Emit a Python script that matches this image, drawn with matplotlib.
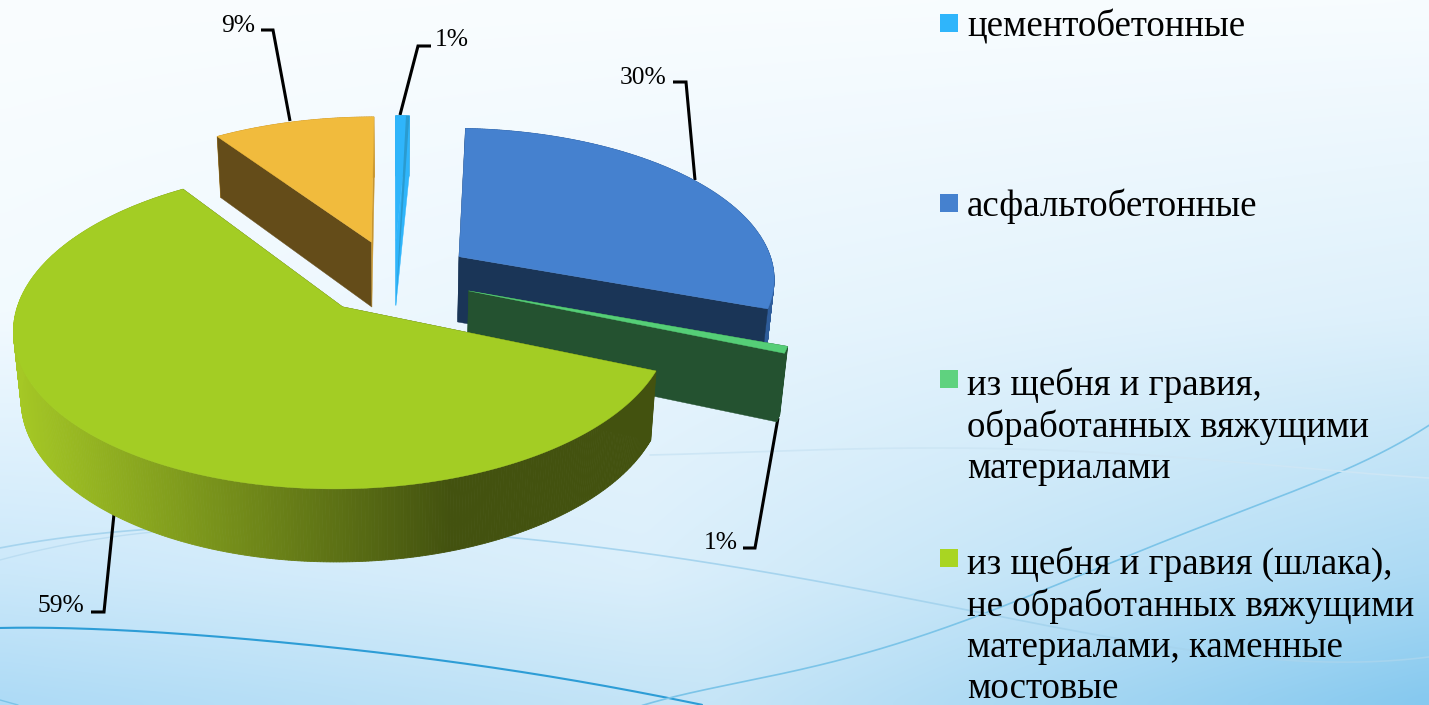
import numpy as np
import matplotlib
matplotlib.use("Agg")
import matplotlib.pyplot as plt
from matplotlib.colors import to_rgb
from matplotlib.patches import Rectangle

categories = ["цементобетонные", "асфальтобетонные",
              "из щебня и гравия,\nобработанных вяжущими\nматериалами",
              "из щебня и гравия (шлака),\nне обработанных вяжущими\nматериалами, каменные\nмостовые"]
values = [0.8, 29.8, 0.7, 59.2, 9.49]
labels = ["1%", "30%", "1%", "59%", "9%"]
top_colors = ["#2FB5FB", "#4581CF", "#55CE77", "#A3CD24", "#F1BB3D"]
start_face = ["#2FB5FB", "#1A3557", "#245230", "#43520F", "#644C19"]
end_face = ["#2FB5FB", "#1A3557", "#245230", "#43520F", "#C8962F"]
rim_light = ["#2A9BD0", "#2E5C9A", "#245230", "#A5C825", "#C8962F"]
rim_dark = ["#2A9BD0", "#2E5C9A", "#245230", "#43520F", "#C8962F"]
explode = [0.25, 0.25, 0.25, 0.25, 0.25]
legend_colors = ["#2FB5FB", "#4581CF", "#5FD27F", "#A9D522"]
legend_text_y = [27, 206, 427, 626]
legend_box_y = [23, 203, 379, 558]
label_pos = [(452, 40), (643, 78), (721, 543), (61, 606), (238, 26)]
leaders = [[(431, 46), (418, 46), (400, 115)],
           [(673, 82), (686, 82), (695, 180)],
           [(743, 548), (755, 548), (778, 418)],
           [(91, 612), (104, 612), (114, 514)],
           [(261, 30), (273, 30), (290, 121)]]

X0, Y0, R, RT, K, H = 394, 277, 317, 150, 0.13, 66
START = 0.0


def proj(x, y, z=0.0):
    s = 1 / (1 + K * y)
    sz = 1 - 0.02 * z
    return X0 + R * x * s * sz, Y0 - RT * y * s + H * z * s ** 0.6


fig = plt.figure(figsize=(14.29, 7.05), dpi=100)
ax = fig.add_axes([0, 0, 1, 1])
ax.axis("off")

# background gradient
col_top = [to_rgb("#FAFDFF"), to_rgb("#F7FCFF")]
col_mid = [to_rgb("#F2FAFF"), to_rgb("#DDF0FB")]
col_low = [to_rgb("#CBE8FA"), to_rgb("#DBEFFB"), to_rgb("#ACDAF4")]
col_bot = [to_rgb("#AEDBF6"), to_rgb("#C6E5F7"), to_rgb("#86C9EF")]
gx = np.linspace(0, 1, 143)
gy = np.linspace(0, 1, 71)
img = np.zeros((gy.size, gx.size, 3))
for c in range(3):
    rows = [np.interp(gx, [0, 1], [col_top[0][c], col_top[1][c]]),
            np.interp(gx, [0, 1], [col_mid[0][c], col_mid[1][c]]),
            np.interp(gx, [0, 0.45, 1], [col_low[0][c], col_low[1][c], col_low[2][c]]),
            np.interp(gx, [0, 0.5, 1], [col_bot[0][c], col_bot[1][c], col_bot[2][c]])]
    for k in range(gx.size):
        img[:, k, c] = np.interp(gy, [0, 0.45, 0.82, 1], [r[k] for r in rows])
ax.imshow(img, extent=(0, 1429, 705, 0), aspect="auto", interpolation="bicubic", zorder=0)
ax.set_xlim(0, 1429)
ax.set_ylim(705, 0)

# decorative background curves
curves = [([0, 120, 229, 360, 459, 570, 665, 702], [628, 630, 638, 650, 663, 680, 697, 705], "#2D9DD6", 1.5),
          ([642, 720, 850, 991, 1172, 1353, 1429], [705, 688, 655, 613, 537, 467, 425], "#7CC4E8", 1.2),
          ([0, 138, 300, 504, 720, 946, 1172, 1429], [548, 530, 525, 538, 563, 607, 647, 657], "#A6D4EE", 1.2),
          ([0, 92, 250], [560, 540, 528], "#BBDDF2", 1.0),
          ([650, 720, 946, 1172, 1429], [455, 453, 448, 457, 478], "#CDE6F5", 1.2),
          ([0, 18], [700, 705], "#7CC4E8", 1.0)]
for cx, cy, col, lw in curves:
    cx, cy = np.array(cx, float), np.array(cy, float)
    xx = np.linspace(cx[0], cx[-1], 300)
    yy = np.polyval(np.polyfit(cx, cy, min(len(cx) - 1, 5)), xx)
    ax.plot(xx, yy, color=col, lw=lw, zorder=1, solid_capstyle="round")

# leader lines
for pts in leaders:
    xs, ys = zip(*pts)
    ax.plot(xs, ys, color="black", lw=2.2, zorder=2, solid_joinstyle="miter", solid_capstyle="butt")

# pie
total = sum(values)
angle = START
slices = []
for i, v in enumerate(values):
    sweep = 360 * v / total
    a0, a1 = angle, angle + sweep
    angle = a1
    mid = np.radians((a0 + a1) / 2)
    ex, ey = explode[i] * np.sin(mid), explode[i] * np.cos(mid)
    th = np.radians(np.linspace(a0, a1, max(4, int(sweep * 2))))
    slices.append(dict(wx=ex + np.sin(th), wy=ey + np.cos(th), ex=ex, ey=ey))

z = 3
for i in [0, 4, 1, 2, 3]:
    d = slices[i]
    wx, wy, ex, ey = d["wx"], d["wy"], d["ex"], d["ey"]
    c0, c1 = np.array(to_rgb(rim_light[i])), np.array(to_rgb(rim_dark[i]))
    for j in range(len(wx) - 1):
        xa, ya = proj(wx[j], wy[j])
        xb, yb = proj(wx[j + 1], wy[j + 1])
        xc, yc = proj(wx[j + 1], wy[j + 1], 1)
        xd, yd = proj(wx[j], wy[j], 1)
        t = np.clip(((xa + xb) / 2 - 15) / (450 - 15), 0, 1)
        ax.fill([xa, xb, xc, xd], [ya, yb, yc, yd], color=c0 + (c1 - c0) * t, lw=0.6, zorder=z)
    for wxe, wye, col in ((wx[0], wy[0], start_face[i]), (wx[-1], wy[-1], end_face[i])):
        pts = [proj(ex, ey), proj(wxe, wye), proj(wxe, wye, 1), proj(ex, ey, 1)]
        ax.fill(*zip(*pts), color=col, lw=0.3, zorder=z)
    tx, ty = proj(np.r_[ex, wx], np.r_[ey, wy])
    ax.fill(tx, ty, color=top_colors[i], lw=0.3, zorder=z)
    if i == 0:
        p = [proj(wx[-1], wy[-1]), proj(wx[0] * 0.25 + wx[-1] * 0.75, wy[0] * 0.25 + wy[-1] * 0.75), proj(ex, ey, 1)]
        ax.fill(*zip(*p), color="#2A9BD0", lw=0, zorder=z)
    z += 1

# percentage labels
for s, (x, y) in zip(labels, label_pos):
    ax.text(x, y, s, ha="center", va="center", family="Liberation Serif", fontsize=18.4, color="black", zorder=20)

# legend
for name, col, ty, by in zip(categories, legend_colors, legend_text_y, legend_box_y):
    ax.add_patch(Rectangle((940, by - 9), 18, 18, facecolor=col, edgecolor="none", zorder=20))
    ax.text(967, ty, name, ha="left", va="center", family="Liberation Serif", fontsize=26.6,
            linespacing=1.25, color="black", zorder=20)

fig.savefig("out.png", dpi=100)
